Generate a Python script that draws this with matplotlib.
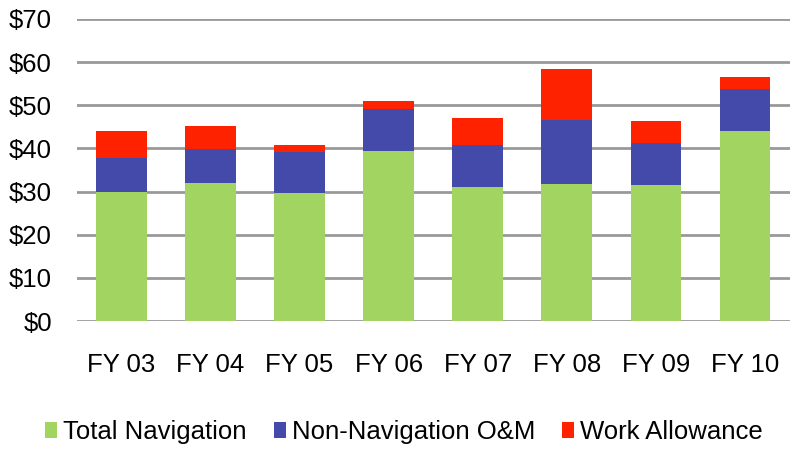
import matplotlib
matplotlib.use("Agg")
import matplotlib.pyplot as plt
import numpy as np

plt.rcParams['font.family'] = ['Liberation Sans', 'DejaVu Sans']

years = ['FY 03', 'FY 04', 'FY 05', 'FY 06', 'FY 07', 'FY 08', 'FY 09', 'FY 10']
total_nav = [29.8, 32.0, 29.7, 39.5, 31.1, 31.8, 31.4, 44.0]
non_nav = [7.9, 7.9, 9.4, 9.7, 9.7, 14.8, 9.9, 9.7]
work_allow = [6.3, 5.3, 1.7, 1.8, 6.3, 11.7, 5.0, 2.9]

fig = plt.figure(figsize=(7.92, 4.49), dpi=100)
ax = fig.add_axes([0.097, 0.285, 0.9, 0.673])

x = np.arange(len(years))
w = 0.57
b1 = np.array(total_nav)
b2 = b1 + np.array(non_nav)
ax.bar(x, total_nav, w, color='#A2D462', label='Total Navigation', zorder=3)
ax.bar(x, non_nav, w, bottom=b1, color='#434AA9', label='Non-Navigation O&M', zorder=3)
ax.bar(x, work_allow, w, bottom=b2, color='#FF2200', label='Work Allowance', zorder=3)

ax.set_ylim(0, 70)
ax.set_xlim(-0.5, len(years) - 0.5)
ax.set_yticks(range(0, 71, 10))
ax.set_yticklabels(['$%d' % v for v in range(0, 71, 10)])
ax.set_xticks(x)
ax.set_xticklabels(years)
ax.yaxis.grid(True, color='#999999', linewidth=2, zorder=0)
for s in ax.spines.values():
    s.set_visible(False)
ax.tick_params(length=0, labelsize=18.5)
ax.tick_params(axis='x', pad=23)
ax.tick_params(axis='y', pad=18)

fig.legend(loc='center', bbox_to_anchor=(0.51, 0.038), ncol=3, frameon=False,
           fontsize=18.5, handlelength=0.47, handleheight=0.55, handletextpad=0.23,
           columnspacing=1.05)

fig.savefig('out.png', dpi=100)
